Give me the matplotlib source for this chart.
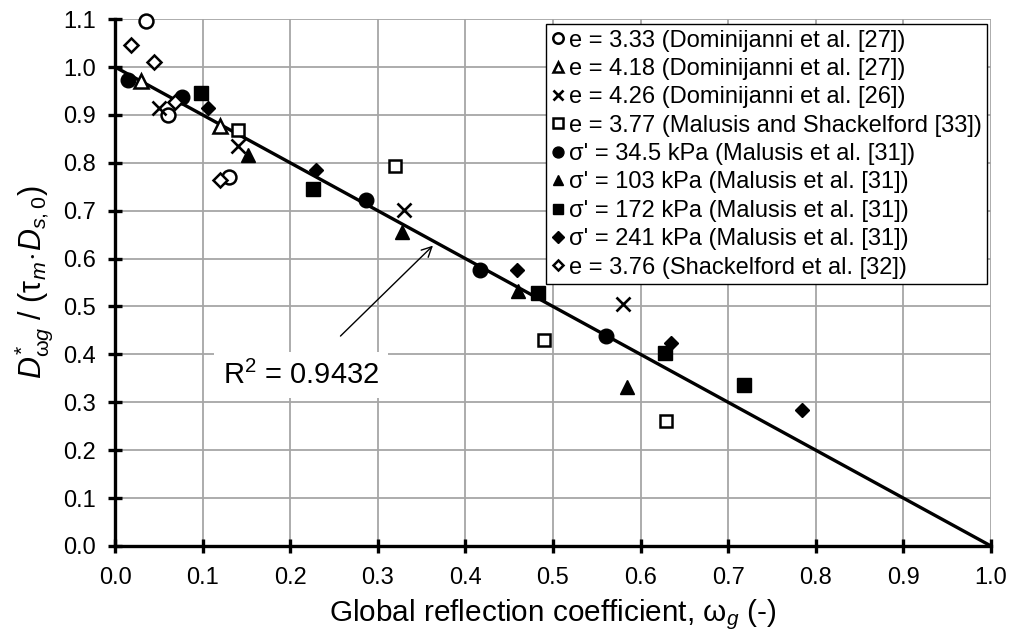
import matplotlib
matplotlib.use("Agg")
import matplotlib.pyplot as plt
import numpy as np

plt.rcParams['font.family'] = ['Liberation Sans', 'DejaVu Sans']
plt.rcParams['mathtext.fontset'] = 'custom'
plt.rcParams['mathtext.rm'] = 'Liberation Sans'
plt.rcParams['mathtext.it'] = 'Liberation Sans:italic'
plt.rcParams['mathtext.bf'] = 'Liberation Sans:bold'

# ---- data ----
dom27a_x = [0.035, 0.060, 0.130]
dom27a_y = [1.097, 0.900, 0.770]
dom27b_x = [0.030, 0.120]
dom27b_y = [0.971, 0.877]
dom26_x = [0.050, 0.140, 0.330, 0.580]
dom26_y = [0.915, 0.835, 0.701, 0.505]
mal33_x = [0.140, 0.320, 0.490, 0.629]
mal33_y = [0.868, 0.794, 0.430, 0.260]
s345_x = [0.015, 0.077, 0.286, 0.417, 0.561]
s345_y = [0.973, 0.937, 0.722, 0.576, 0.438]
s103_x = [0.152, 0.328, 0.460, 0.584]
s103_y = [0.816, 0.656, 0.533, 0.331]
s172_x = [0.098, 0.226, 0.483, 0.628, 0.718]
s172_y = [0.946, 0.745, 0.529, 0.402, 0.336]
s241_x = [0.106, 0.229, 0.459, 0.635, 0.784]
s241_y = [0.915, 0.784, 0.576, 0.424, 0.284]
sh32_x = [0.018, 0.044, 0.069, 0.120]
sh32_y = [1.046, 1.010, 0.926, 0.764]

fit_intercept = 1.0
fit_slope = -1.0
fit_x = [0.0, 1.0]
r2_text = "R$^2$ = 0.9432"

labels = [
    "e = 3.33 (Dominijanni et al. [27])",
    "e = 4.18 (Dominijanni et al. [27])",
    "e = 4.26 (Dominijanni et al. [26])",
    "e = 3.77 (Malusis and Shackelford [33])",
    "σ' = 34.5 kPa (Malusis et al. [31])",
    "σ' = 103 kPa (Malusis et al. [31])",
    "σ' = 172 kPa (Malusis et al. [31])",
    "σ' = 241 kPa (Malusis et al. [31])",
    "e = 3.76 (Shackelford et al. [32])",
]

xticks = np.round(np.arange(0, 1.01, 0.1), 1)
yticks = np.round(np.arange(0, 1.11, 0.1), 1)

# ---- figure ----
fig = plt.figure(figsize=(10.09, 6.37), dpi=100)
ax = fig.add_axes([0.114, 0.143, 0.868, 0.827])

ax.set_xlim(0, 1.0)
ax.set_ylim(0, 1.1)
ax.set_xticks(xticks)
ax.set_yticks(yticks)
ax.set_xticklabels([f"{v:.1f}" for v in xticks])
ax.set_yticklabels([f"{v:.1f}" for v in yticks])
ax.grid(True, color='#a6a6a6', linewidth=1.3)
ax.set_axisbelow(True)
for s in ['top', 'right']:
    ax.spines[s].set_visible(False)
for s in ['left', 'bottom']:
    ax.spines[s].set_linewidth(2.4)
    ax.spines[s].set_color('black')
    ax.spines[s].set_zorder(5)
ax.tick_params(direction='inout', length=10, width=2.4, labelsize=17, colors='black')
ax.tick_params(axis='x', pad=10)
ax.tick_params(axis='y', pad=8.5)

fx = np.array(fit_x)
ax.plot(fx, fit_intercept + fit_slope * fx, color='black', lw=2.4, zorder=3)

ms = 10
ew = 1.8
series = [
    (dom27a_x, dom27a_y, dict(marker='o', mfc='white', mec='black', mew=ew, ms=ms)),
    (dom27b_x, dom27b_y, dict(marker='^', mfc='white', mec='black', mew=ew, ms=ms + 0.5)),
    (dom26_x, dom26_y, dict(marker='x', mfc='black', mec='black', mew=1.9, ms=ms - 0.5)),
    (mal33_x, mal33_y, dict(marker='s', mfc='white', mec='black', mew=ew, ms=ms - 1)),
    (s345_x, s345_y, dict(marker='o', mfc='black', mec='black', mew=1, ms=ms + 0.5)),
    (s103_x, s103_y, dict(marker='^', mfc='black', mec='black', mew=1, ms=ms + 0.5)),
    (s172_x, s172_y, dict(marker='s', mfc='black', mec='black', mew=1, ms=ms - 0.5)),
    (s241_x, s241_y, dict(marker='D', mfc='black', mec='black', mew=1, ms=ms - 2.5)),
    (sh32_x, sh32_y, dict(marker='D', mfc='white', mec='black', mew=ew, ms=ms - 3)),
]
handles = []
for (xs, ys, kw), lab in zip(series, labels):
    h, = ax.plot(xs, ys, ls='none', zorder=4, label=lab, clip_on=False, **kw)
    handles.append(h)

leg = ax.legend(handles=handles, loc='upper left', bbox_to_anchor=(0.492, 0.990),
                borderaxespad=0, fontsize=17, frameon=True, fancybox=False,
                framealpha=1, edgecolor='black', handlelength=0.55, handletextpad=0.2,
                labelspacing=0.27, borderpad=0.22, markerscale=0.75)
leg.get_frame().set_linewidth(1.0)
leg.set_zorder(6)

ax.annotate(r2_text, xy=(0.363, 0.627), xytext=(0.212, 0.357),
            textcoords='data', fontsize=21, ha='center', va='center',
            bbox=dict(boxstyle='square,pad=0.3', fc='white', ec='none'),
            arrowprops=dict(arrowstyle='->', color='black', lw=1.0,
                            shrinkA=16, shrinkB=0, mutation_scale=18),
            zorder=6)

ax.set_xlabel(r"Global reflection coefficient, $\mathrm{\omega}_g$ (-)", fontsize=21.4, labelpad=6)
ax.set_ylabel(r"$D^{*}_{\mathrm{\omega}g}\ /\ (\mathrm{\tau}_m\!\cdot\!D_{s,0})$", fontsize=22, labelpad=6)

fig.savefig("out.png", dpi=100)
